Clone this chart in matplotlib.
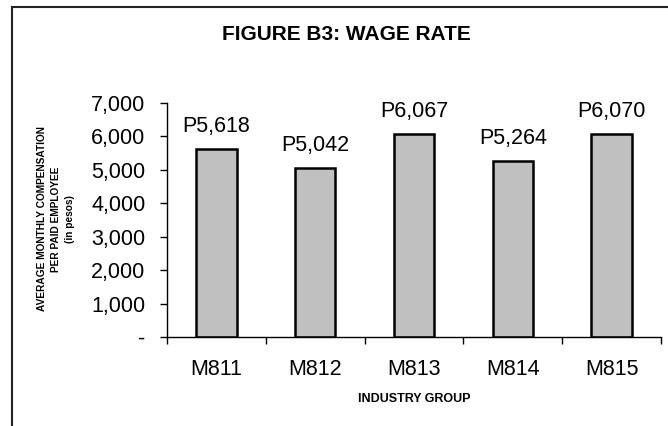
import matplotlib
matplotlib.use("Agg")
import matplotlib.pyplot as plt
from matplotlib.lines import Line2D
from matplotlib.ticker import FuncFormatter

categories = ["M811", "M812", "M813", "M814", "M815"]
values = [5618, 5042, 6067, 5264, 6070]
labels = ["P5,618", "P5,042", "P6,067", "P5,264", "P6,070"]
yticks = [0, 1000, 2000, 3000, 4000, 5000, 6000, 7000]

plt.rcParams['font.family'] = ['Liberation Sans', 'DejaVu Sans']

W, H = 668, 426
fig = plt.figure(figsize=(W / 100, H / 100), dpi=100)
ax = fig.add_axes([167 / W, 1 - 337 / H, (661 - 167) / W, (337 - 103) / H])

x = list(range(len(categories)))
ax.bar(x, values, width=0.41, color="#c0c0c0", edgecolor="black", linewidth=1.8)
for xi, v, lab in zip(x, values, labels):
    ax.annotate(lab, (xi, v), xytext=(0, 9), textcoords="offset points",
                ha="center", va="bottom", fontsize=15.5)

ax.set_xlim(-0.5, len(categories) - 0.5)
ax.set_ylim(0, 7000)
ax.set_yticks(yticks)
ax.yaxis.set_major_formatter(FuncFormatter(lambda v, p: "-" if v == 0 else f"{int(v):,}"))
ax.set_xticks(x)
ax.set_xticklabels(categories)
ax.set_xticks([i - 0.5 for i in range(len(categories) + 1)], minor=True)
ax.tick_params(axis="x", which="major", length=0, labelsize=15.5, pad=15.5)
ax.tick_params(axis="x", which="minor", length=5, width=1)
ax.tick_params(axis="y", length=5, width=1, labelsize=15.5, pad=10.5)

for s in ["top", "right"]:
    ax.spines[s].set_visible(False)
ax.spines["left"].set_linewidth(1)
ax.spines["bottom"].set_linewidth(1)

ax.set_xlabel("INDUSTRY GROUP", fontsize=9, fontweight="bold", labelpad=10)
fig.text(56 / W, 1 - 219 / H,
         "AVERAGE MONTHLY COMPENSATION\nPER PAID EMPLOYEE\n(in pesos)",
         rotation=90, ha="center", va="center", fontsize=7.3,
         fontweight="bold", linespacing=1.45)

fig.text(346 / W, 1 - 34 / H, "FIGURE B3: WAGE RATE", ha="center", va="center",
         fontsize=15, fontweight="bold")

# outer frame (left and top edges visible)
fig.add_artist(Line2D([12 / W, 12 / W], [0, 1 - 7 / H], transform=fig.transFigure,
                      color="#222222", linewidth=1.5))
fig.add_artist(Line2D([12 / W, 1], [1 - 7 / H, 1 - 7 / H], transform=fig.transFigure,
                      color="#222222", linewidth=1.5))

fig.savefig("out.png", dpi=100)
